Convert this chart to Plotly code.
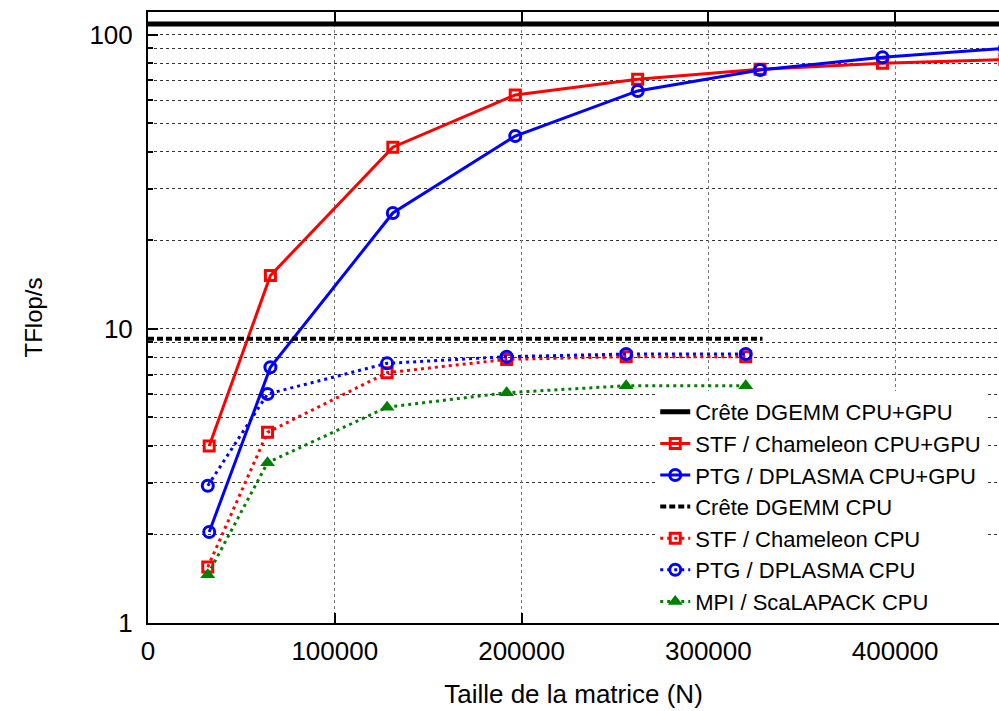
import plotly.graph_objects as go

# Matrix sizes (N)
n_gpu = [32768, 65536, 131072, 196608, 262144, 327680, 393216, 458752]
n_cpu = [32000, 64000, 128000, 192000, 256000, 320000]

# Performance (TFlop/s)
stf_gpu = [4.0, 15.2, 41.5, 62.5, 70.7, 76.4, 80.1, 82.5]
ptg_gpu = [2.04, 7.41, 24.8, 45.3, 64.5, 76.0, 84.0, 90.0]
stf_cpu = [1.55, 4.45, 7.10, 7.88, 8.05, 8.05]
ptg_cpu = [2.93, 6.01, 7.64, 8.05, 8.22, 8.22]
scalapack_cpu = [1.46, 3.51, 5.42, 6.07, 6.41, 6.41]

# Peak lines
peak_gpu_n = [0, 470000]
peak_gpu = [109, 109]
peak_cpu_n = [0, 329000]
peak_cpu = [9.27, 9.27]

x_ticks = [0, 100000, 200000, 300000, 400000]
y_ticks = [1, 10, 100]
y_minor = [2, 3, 4, 5, 6, 7, 8, 9, 20, 30, 40, 50, 60, 70, 80, 90]

FONT = "Liberation Sans, Arial, sans-serif"
RED = "#ff0000"
BLUE = "#0000ff"
GREEN = "#008000"

fig = go.Figure()

fig.add_trace(go.Scatter(x=peak_gpu_n, y=peak_gpu, mode="lines",
                         name="Crête DGEMM CPU+GPU",
                         line=dict(color="black", width=5)))
fig.add_trace(go.Scatter(x=n_gpu, y=stf_gpu, mode="lines+markers",
                         name="STF / Chameleon CPU+GPU",
                         line=dict(color=RED, width=3),
                         marker=dict(symbol="square-open", size=10,
                                     color=RED, line=dict(width=3, color=RED))))
fig.add_trace(go.Scatter(x=n_gpu, y=ptg_gpu, mode="lines+markers",
                         name="PTG / DPLASMA CPU+GPU",
                         line=dict(color=BLUE, width=3),
                         marker=dict(symbol="circle-open", size=11,
                                     color=BLUE, line=dict(width=3, color=BLUE))))
fig.add_trace(go.Scatter(x=peak_cpu_n, y=peak_cpu, mode="lines",
                         name="Crête DGEMM CPU",
                         line=dict(color="black", width=4, dash="6px,3px")))
fig.add_trace(go.Scatter(x=n_cpu, y=stf_cpu, mode="lines+markers",
                         name="STF / Chameleon CPU",
                         line=dict(color=RED, width=3, dash="3px,4px"),
                         marker=dict(symbol="square-open", size=10,
                                     color=RED, line=dict(width=3, color=RED))))
fig.add_trace(go.Scatter(x=n_cpu, y=ptg_cpu, mode="lines+markers",
                         name="PTG / DPLASMA CPU",
                         line=dict(color=BLUE, width=3, dash="3px,4px"),
                         marker=dict(symbol="circle-open", size=11,
                                     color=BLUE, line=dict(width=3, color=BLUE))))
fig.add_trace(go.Scatter(x=n_cpu, y=scalapack_cpu, mode="lines+markers",
                         name="MPI / ScaLAPACK CPU",
                         line=dict(color=GREEN, width=3, dash="3px,4px"),
                         marker=dict(symbol="triangle-up", size=13, color=GREEN)))

fig.update_layout(
    width=999, height=711,
    margin=dict(l=148, r=0, t=12, b=88, autoexpand=False),
    paper_bgcolor="white", plot_bgcolor="white",
    font=dict(family=FONT, size=26, color="black"),
    showlegend=True,
    legend=dict(x=0.985, y=0.0, xanchor="right", yanchor="bottom",
                bgcolor="white", font=dict(size=22, family=FONT),
                tracegroupgap=0),
    xaxis=dict(
        range=[0, 455600], automargin=False,
        tickvals=x_ticks, tickformat="d",
        ticks="inside", ticklen=10, tickwidth=1.5, tickcolor="black",
        showline=True, linecolor="black", linewidth=2, mirror="ticks",
        showgrid=True, gridcolor="#777777", griddash="dot", gridwidth=1,
        zeroline=False,
        ticklabelstandoff=4,
        tickfont=dict(size=26),
        title=dict(text="Taille de la matrice (N)", font=dict(size=26), standoff=20),
    ),
    yaxis=dict(
        type="log", range=[0, 2.078], automargin=False,
        tickvals=y_ticks, ticktext=["1", "10", "100"],
        ticks="inside", ticklen=10, tickwidth=1.5, tickcolor="black",
        showline=True, linecolor="black", linewidth=2, mirror=False,
        showgrid=True, gridcolor="#333333", griddash="dot", gridwidth=1,
        zeroline=False,
        ticklabelstandoff=8,
        tickfont=dict(size=26),
        minor=dict(tickmode="array", tickvals=y_minor, ticks="inside",
                   ticklen=5, tickcolor="black", showgrid=True,
                   gridcolor="#333333", griddash="dot", gridwidth=1),
        title=dict(text="TFlop/s", font=dict(size=24), standoff=40),
    ),
)

fig.write_html("out.html",
               config={"displayModeBar": False},
               post_script="document.body.style.margin='0';"
                           "document.documentElement.style.overflow='hidden';")
